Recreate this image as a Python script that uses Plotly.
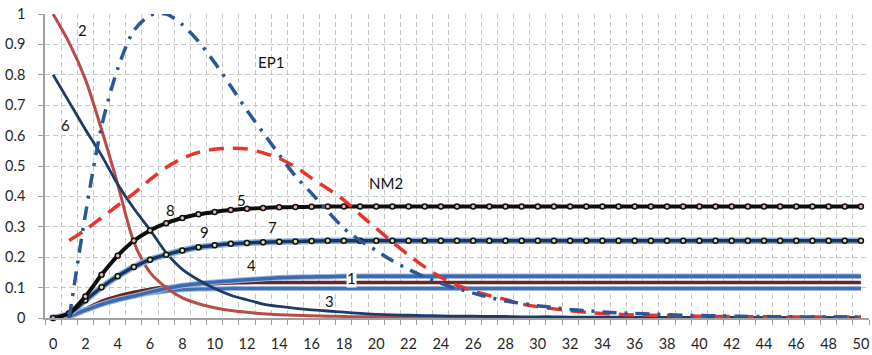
import numpy as np
import plotly.graph_objects as go

x = list(range(0, 51))

# Series "2" (red-brown decaying curve)
s2 = [1.0, 0.905, 0.785, 0.62, 0.44, 0.25, 0.15, 0.10, 0.066, 0.047, 0.034, 0.025, 0.019,
      0.014, 0.011, 0.009, 0.007, 0.006, 0.005, 0.004, 0.004, 0.003, 0.003, 0.003, 0.002,
      0.002, 0.002, 0.002, 0.002, 0.001, 0.001, 0.001, 0.001, 0.001, 0.001, 0.001, 0.001,
      0.001, 0.001, 0.001, 0.001, 0.001, 0.001, 0.001, 0.001, 0.001, 0.001, 0.001, 0.001,
      0.001, 0.001]
# Series "6" (navy decaying curve)
s6 = [0.80, 0.71, 0.62, 0.535, 0.44, 0.36, 0.29, 0.215, 0.16, 0.125, 0.097, 0.075, 0.06,
      0.046, 0.038, 0.032, 0.027, 0.023, 0.019, 0.015, 0.012, 0.010, 0.009, 0.008, 0.007,
      0.006, 0.006, 0.005, 0.005, 0.004, 0.004, 0.004, 0.003, 0.003, 0.003, 0.003, 0.002,
      0.002, 0.002, 0.002, 0.002, 0.002, 0.002, 0.001, 0.001, 0.001, 0.001, 0.001, 0.001,
      0.001, 0.001]
# Series "8"/"5" (black with pink markers)
s8 = [0.0, 0.016, 0.071, 0.142, 0.205, 0.254, 0.288, 0.312, 0.329, 0.341, 0.349, 0.355,
      0.359, 0.362, 0.364, 0.365, 0.366] + [0.367] * 34
# Series "9"/"7" (navy with green markers)
s9 = [0.0, 0.014, 0.058, 0.101, 0.137, 0.168, 0.192, 0.208, 0.222, 0.233, 0.239, 0.244,
      0.247, 0.249, 0.251, 0.252, 0.253] + [0.254] * 34
# Series "4" (steel blue, upper)
s4 = [0.0, 0.006, 0.026, 0.045, 0.06, 0.072, 0.085, 0.097, 0.107, 0.113, 0.118, 0.122,
      0.126, 0.129, 0.132, 0.134, 0.135, 0.136] + [0.137] * 33
# Series "1" (maroon)
s1 = [0.0, 0.008, 0.03, 0.055, 0.072, 0.085, 0.095, 0.102, 0.107, 0.110, 0.113, 0.115,
      0.116] + [0.117] * 38
# Series "3" (steel blue, lower)
s3 = [0.0, 0.005, 0.025, 0.045, 0.06, 0.072, 0.082, 0.089, 0.093, 0.095, 0.096] + [0.097] * 40
# EP1 (dash-dot blue)
ep1 = [None, 0.0, 0.34, 0.63, 0.82, 0.945, 0.995, 1.0, 0.965, 0.91, 0.84, 0.762, 0.683,
       0.61, 0.537, 0.467, 0.41, 0.351, 0.295, 0.255, 0.222, 0.188, 0.16, 0.135, 0.114,
       0.097, 0.082, 0.068, 0.056, 0.048, 0.040, 0.034, 0.028, 0.024, 0.020, 0.017, 0.015,
       0.013, 0.011, 0.009, 0.008, 0.007, 0.006, 0.005, 0.005, 0.004, 0.004, 0.003, 0.003,
       0.003, 0.003]
# NM2 (dashed red)
nm2 = [None, 0.255, 0.29, 0.33, 0.37, 0.41, 0.455, 0.495, 0.525, 0.545, 0.555, 0.558,
       0.556, 0.543, 0.525, 0.497, 0.46, 0.425, 0.388, 0.34, 0.295, 0.25, 0.207, 0.168,
       0.134, 0.108, 0.089, 0.074, 0.061, 0.046, 0.037, 0.03, 0.024, 0.019, 0.015, 0.012,
       0.010, 0.009, 0.008, 0.007, 0.006, 0.005, 0.005, 0.004, 0.004, 0.004, 0.003, 0.003,
       0.003, 0.003, 0.003]

labels = ["2", "6", "EP1", "NM2", "8", "5", "9", "7", "4", "1", "3"]
label_x = [1.84, 0.78, 13.5, 20.6, 7.27, 11.66, 9.35, 13.6, 12.28, 18.46, 17.12]
label_y = [0.946, 0.636, 0.841, 0.444, 0.356, 0.389, 0.282, 0.301, 0.175, 0.131, 0.055]

xticks = list(range(0, 51, 2))
yticks = [round(v * 0.1, 1) for v in range(0, 11)]

fig = go.Figure()
SH = dict(shape="spline", smoothing=0.8)

def line(y, color, width, dash="solid"):
    fig.add_trace(go.Scatter(x=x, y=y, mode="lines",
                             line=dict(color=color, width=width, dash=dash, **SH),
                             hoverinfo="skip", showlegend=False))

# lower group with light glow
line(s3, "#9ab7dd", 5)
line(s3, "#3f70b4", 3)
line(s1, "#6a2625", 3.5)
line(s4, "#9ab7dd", 5.5)
line(s4, "#3d6aae", 3.5)
line(s2, "#b84c48", 3)
line(s6, "#1f3a68", 2.8)
# series 9 with glow and markers
line(s9, "#8fb0dc", 6.5)
fig.add_trace(go.Scatter(x=x, y=s9, mode="lines+markers",
                         line=dict(color="#1b355f", width=3.5, **SH),
                         marker=dict(size=5, color="#d8e6a8", line=dict(color="#111111", width=1.5)),
                         cliponaxis=False, hoverinfo="skip", showlegend=False))
fig.add_trace(go.Scatter(x=x, y=s8, mode="lines+markers",
                         line=dict(color="#0d0d0d", width=4, **SH),
                         marker=dict(size=5, color="#eeb0b0", line=dict(color="#111111", width=1.5)),
                         cliponaxis=False, hoverinfo="skip", showlegend=False))
line(nm2, "#e8342a", 3.5, "15px,9px")
line(ep1, "#2b5795", 3.5, "14px,8px,3px,8px")

for t, lx, ly in zip(labels, label_x, label_y):
    fig.add_annotation(x=lx, y=ly, text=t, showarrow=False,
                       font=dict(family="Lato", size=15, color="#111111"),
                       bgcolor="white" if t == "1" else None, borderpad=0)

grid = "#c8c8c8"
axcol = "#a0a0a0"
fig.update_xaxes(range=[-0.5, 50.5], tickmode="array", tickvals=xticks,
                 ticktext=[str(v) for v in xticks], ticks="", showgrid=False,
                 showline=True, linecolor=axcol, linewidth=1.5, zeroline=False,
                 tickfont=dict(family="Lato", size=14.5, color="#262626"),
                 ticklabelstandoff=12,
                 minor=dict(tickmode="array", tickvals=list(np.arange(-0.5, 51, 1.0)),
                            ticks="outside", ticklen=5, tickcolor=axcol, tickwidth=1,
                            showgrid=True, gridcolor=grid, griddash="5px,3px", gridwidth=1))
fig.update_yaxes(range=[0, 1], tickmode="array", tickvals=yticks,
                 ticktext=[("%g" % v) for v in yticks],
                 ticks="outside", ticklen=5, tickcolor=axcol, showgrid=True,
                 gridcolor=grid, griddash="5px,3px", gridwidth=1,
                 showline=True, linecolor=axcol, linewidth=1.5, zeroline=False,
                 tickfont=dict(family="Lato", size=14.5, color="#262626"),
                 ticklabelstandoff=10)
fig.update_layout(width=872, height=355, margin=dict(l=45, r=3, t=14, b=37),
                  paper_bgcolor="white", plot_bgcolor="white", showlegend=False)
fig.write_html("out.html")
